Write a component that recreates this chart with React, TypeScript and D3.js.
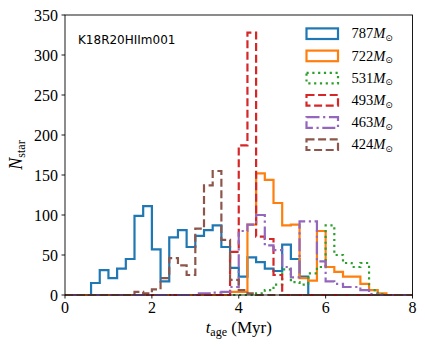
import * as d3 from 'd3';

// histogram bins: 0 to 8 Myr, 0.2 Myr wide
const binWidth = 0.2;
const nBins = 40;

const counts787 = [0, 0, 0, 15, 31, 21, 33, 45, 99, 111, 57, 17, 72, 81, 60, 74, 81, 87, 60, 34,
    23, 47, 41, 33, 30, 63, 45, 23, 0, 0, 0, 0, 0, 0, 0, 0, 0, 0, 0, 0];
const counts722 = [0, 0, 0, 0, 0, 0, 0, 0, 0, 0, 0, 0, 0, 0, 0, 0, 0, 0, 0, 4,
    4, 88, 152, 144, 115, 87, 88, 21, 18, 80, 35, 29, 23, 23, 14, 6, 2, 0, 0, 0];
const counts531 = [0, 0, 0, 0, 0, 0, 0, 0, 0, 0, 0, 0, 0, 0, 0, 0, 0, 0, 0, 0,
    0, 0, 2, 6, 13, 32, 16, 13, 27, 35, 87, 50, 40, 35, 40, 6, 1, 0, 0, 0];
const counts493 = [0, 0, 0, 0, 0, 0, 0, 0, 0, 0, 0, 0, 0, 0, 0, 0, 0, 0, 0, 54,
    187, 328, 73, 70, 25, 0, 0, 0, 0, 0, 0, 0, 0, 0, 0, 0, 0, 0, 0, 0];
const counts463 = [0, 0, 0, 0, 0, 0, 0, 0, 0, 0, 0, 0, 0, 0, 0, 2, 2, 3, 4, 10,
    80, 88, 100, 62, 56, 35, 22, 92, 92, 42, 17, 14, 10, 10, 6, 1, 0, 0, 0, 0];
const counts424 = [0, 0, 0, 0, 0, 0, 0, 0, 4, 2, 7, 21, 46, 37, 25, 83, 137, 155, 69, 19,
    6, 2, 0, 0, 0, 0, 0, 0, 0, 0, 0, 0, 0, 0, 0, 0, 0, 0, 0, 0];

const masses = ['787', '722', '531', '493', '463', '424'];
const xTicks = [0, 2, 4, 6, 8];
const yTicks = [0, 50, 100, 150, 200, 250, 300, 350];

const series = [
    { mass: masses[0], counts: counts787, color: '#1f77b4', dash: null },
    { mass: masses[1], counts: counts722, color: '#ff7f0e', dash: null },
    { mass: masses[2], counts: counts531, color: '#2ca02c', dash: '2.2,3.6' },
    { mass: masses[3], counts: counts493, color: '#d62728', dash: '8,3.6' },
    { mass: masses[4], counts: counts463, color: '#9467bd', dash: '13,3.6,2.2,3.6' },
    { mass: masses[5], counts: counts424, color: '#8c564b', dash: '8,3.6' },
];

const W = 425;
const H = 353;
const left = 65;
const right = 412.5;
const top = 15;
const bottom = 295;
const serif = '"Liberation Serif", "DejaVu Serif", serif';

export default function App() {
    const x = d3.scaleLinear().domain([0, 8]).range([left, right]);
    const y = d3.scaleLinear().domain([0, 350]).range([bottom, top]);

    const line = d3.line<[number, number]>()
        .x((d) => x(d[0]))
        .y((d) => y(d[1]));

    // step outline like histtype='step'
    const stepPath = (vals: number[]) => {
        const pts: [number, number][] = [[0, 0]];
        for (let i = 0; i < nBins; i++) {
            pts.push([i * binWidth, vals[i]]);
            pts.push([(i + 1) * binWidth, vals[i]]);
        }
        pts.push([nBins * binWidth, 0]);
        return line(pts) || '';
    };

    return (
        <svg width={W} height={H} style={{ position: 'absolute', left: 0, top: 0, background: '#fff' }}>
            <defs>
                <clipPath id="plotArea">
                    <rect x={left} y={top - 2} width={right - left} height={bottom - top + 4} />
                </clipPath>
            </defs>

            <g clipPath="url(#plotArea)">
                {series.map((s) => (
                    <path key={s.mass} d={stepPath(s.counts)} fill="none" stroke={s.color}
                        strokeWidth={2.2} strokeDasharray={s.dash || undefined}
                        strokeLinejoin="miter" />
                ))}
            </g>

            {/* frame */}
            <rect x={left} y={top} width={right - left} height={bottom - top}
                fill="none" stroke="#000" strokeWidth={0.9} />

            {/* x axis */}
            {xTicks.map((t) => (
                <g key={t}>
                    <line x1={x(t)} x2={x(t)} y1={bottom} y2={bottom + 3.5} stroke="#000" strokeWidth={0.9} />
                    <text x={x(t)} y={bottom + 18} textAnchor="middle" fontFamily={serif} fontSize={16}>{t}</text>
                </g>
            ))}
            {/* y axis */}
            {yTicks.map((t) => (
                <g key={t}>
                    <line x1={left - 3.5} x2={left} y1={y(t)} y2={y(t)} stroke="#000" strokeWidth={0.9} />
                    <text x={left - 7} y={y(t) + 5.5} textAnchor="end" fontFamily={serif} fontSize={16}>{t}</text>
                </g>
            ))}

            <text x={(left + right) / 2} y={333} textAnchor="middle" fontFamily={serif} fontSize={17}>
                <tspan fontStyle="italic">t</tspan>
                <tspan fontSize={12} dy={3}>age</tspan>
                <tspan dy={-3}> (Myr)</tspan>
            </text>

            <text transform={`translate(22,${(top + bottom) / 2}) rotate(-90)`} textAnchor="middle"
                fontFamily={serif} fontSize={18}>
                <tspan fontStyle="italic">N</tspan>
                <tspan fontSize={12} dy={3}>star</tspan>
            </text>

            <text x={78} y={44} fontFamily='"DejaVu Sans", sans-serif' fontSize={12}>K18R20HIIm001</text>

            {/* legend */}
            {series.map((s, i) => {
                const cy = 33.7 + i * 22.2;
                return (
                    <g key={s.mass}>
                        <rect x={306.5} y={cy - 5.3} width={31.5} height={10.6} fill="none"
                            stroke={s.color} strokeWidth={2.2} strokeDasharray={s.dash || undefined} />
                        <text x={351.5} y={cy + 4.7} fontFamily={serif} fontSize={14.5}>
                            {s.mass}
                            <tspan fontStyle="italic">M</tspan>
                            <tspan fontSize={9} dy={2.5} fontFamily='"DejaVu Sans", sans-serif'>⊙</tspan>
                        </text>
                    </g>
                );
            })}
        </svg>
    );
}
